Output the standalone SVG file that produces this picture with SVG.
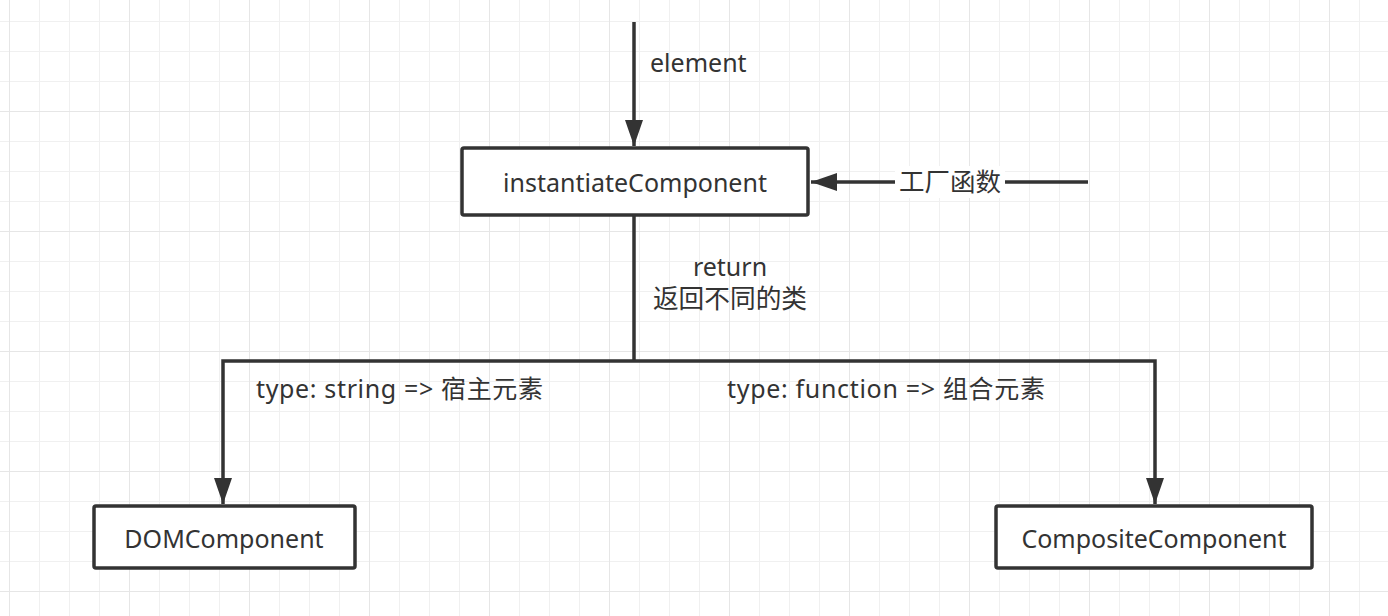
<svg xmlns="http://www.w3.org/2000/svg" width="1388" height="616" viewBox="0 0 1388 616">
<style>
.node rect{fill:#fff;stroke:#333;stroke-width:3.5}
text{font-family:"Noto Sans","Noto Sans CJK SC",sans-serif;font-size:25px;fill:#333}
.c{text-anchor:middle}
.edge{fill:none;stroke:#333;stroke-width:3.5}
</style>
<defs>
<pattern id="minor" width="30" height="30" patternUnits="userSpaceOnUse" x="9" y="21">
<path d="M0 0H30M0 0V30" fill="none" stroke="#f0f0f0" stroke-width="2"/>
</pattern>
<pattern id="major" width="120" height="120" patternUnits="userSpaceOnUse" x="9" y="-9">
<path d="M0 0H120M0 0V120" fill="none" stroke="#e6e6e6" stroke-width="2"/>
</pattern>
<marker id="arr" viewBox="0 0 10 10" refX="10" refY="5" markerWidth="26" markerHeight="18" markerUnits="userSpaceOnUse" orient="auto" preserveAspectRatio="none">
<path d="M0 0L10 5L0 10Z" fill="#333"/>
</marker>
</defs>
<rect width="1388" height="616" fill="#fff"/>
<rect width="1388" height="616" fill="url(#minor)"/>
<rect width="1388" height="616" fill="url(#major)"/>
<g id="connectors">
<path class="edge" d="M634 22V146" marker-end="url(#arr)"/>
<path class="edge" d="M1088 182H811" marker-end="url(#arr)"/>
<path class="edge" d="M634 216V361"/>
<path class="edge" d="M634 361H223V504" marker-end="url(#arr)"/>
<path class="edge" d="M634 361H1155V504" marker-end="url(#arr)"/>
<rect x="895" y="166" width="110" height="32" fill="#fff"/>
<text x="950" y="191" class="c" style="font-size:25.5px">工厂函数</text>
<text x="650" y="72">element</text>
<text x="730" y="276" class="c">return</text>
<text x="730" y="308" class="c" style="font-size:25.7px">返回不同的类</text>
<text x="256" y="398" textLength="287" lengthAdjust="spacing">type: string =&gt; 宿主元素</text>
<text x="727" y="398" textLength="318" lengthAdjust="spacing">type: function =&gt; 组合元素</text>
</g>
<g id="instantiateComponent" class="node">
<rect x="462" y="148" width="346" height="67" rx="2"/>
<text x="635" y="192" class="c">instantiateComponent</text>
</g>
<g id="DOMComponent" class="node">
<rect x="94" y="506" width="261" height="62" rx="2"/>
<text x="224" y="548" class="c">DOMComponent</text>
</g>
<g id="CompositeComponent" class="node">
<rect x="996" y="506" width="316" height="62" rx="2"/>
<text x="1154" y="548" class="c">CompositeComponent</text>
</g>
</svg>
